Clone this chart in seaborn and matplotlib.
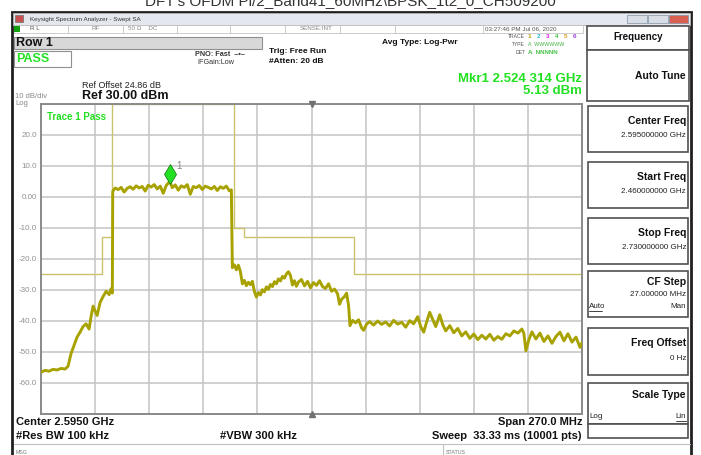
import matplotlib
matplotlib.use("Agg")
import matplotlib.pyplot as plt
import matplotlib.patches as mpatches
import matplotlib.transforms as mtransforms
import pandas as pd
import seaborn as sns

W, H = 701, 455

# ---- data ----
trace_freq_mhz = [
    2460.3, 2462, 2464, 2466, 2468, 2470, 2472, 2473.5, 2475, 2476.5, 2478, 2479.5,
    2481, 2482.5, 2484, 2485, 2486, 2487, 2488, 2489.5, 2491, 2492.5, 2494, 2495, 2495.6,
    2495.8, 2497, 2498.5, 2500, 2501.5, 2503, 2504.5, 2506, 2507.5, 2509, 2510.5, 2512,
    2513.5, 2515, 2516.5, 2518, 2519.5, 2521, 2522.5, 2524.3, 2525.5, 2527, 2528.5, 2530,
    2531.5, 2533, 2534.5, 2536, 2537.5, 2539, 2540.5, 2542, 2543.5, 2545, 2546.5, 2548,
    2549.5, 2551, 2552.5, 2554, 2555,
    2555.5, 2556.5, 2557.5, 2558.5, 2559.5, 2560.5, 2561.5, 2562.5, 2563.5, 2564.5, 2565.5,
    2566.5, 2567.5, 2568.5, 2569.5, 2570.5, 2571.5, 2572.5, 2573.5, 2574.5, 2575.5, 2576.5,
    2577.5, 2578.5, 2579.5, 2580.5, 2581.5, 2582.5, 2583.5, 2584.5, 2585.5, 2586.5, 2587.5,
    2588.5, 2590, 2591.5, 2593, 2594.5, 2596, 2597.5, 2599, 2600.5, 2602, 2603.5, 2605,
    2606.5, 2608, 2609, 2610, 2611.5, 2612.5, 2613.5,
    2614.2, 2615.5, 2617, 2618.5, 2620, 2621, 2622.5, 2624, 2626, 2628, 2630, 2632, 2634,
    2636, 2638, 2640, 2642, 2644, 2646, 2648, 2649.5, 2651, 2652.5, 2654, 2655.5, 2657,
    2659, 2660.5, 2662, 2664, 2666, 2668, 2670, 2672, 2674, 2676, 2678, 2680, 2682, 2684,
    2686, 2688, 2690, 2692, 2694, 2696, 2698, 2700, 2701, 2702, 2703.5, 2705, 2707, 2709,
    2711, 2713, 2715, 2717, 2719, 2721, 2723, 2725, 2727, 2729, 2730,
]
trace_dbm = [
    -56.5, -55.9, -56.2, -55.6, -55.8, -55.3, -55.5, -54.6, -50.5, -47.8, -45.2, -43.6,
    -41.8, -40.9, -42.6, -38.5, -35.2, -36.8, -38.2, -34.0, -32.1, -30.4, -31.5, -29.6, -31.0,
    1.8, 2.9, 2.4, 3.1, 1.6, 2.8, 3.3, 2.5, 3.6, 2.9, 3.4, 1.9,
    3.8, 3.2, 4.0, 2.6, 3.5, 1.2, 3.7, 5.1, 3.0, 3.9, 2.2, 3.6,
    3.1, 4.0, 0.9, 3.4, 3.0, 3.7, 2.4, 3.5, 3.1, 2.6, 3.4, 2.1,
    3.3, 2.8, 3.5, 2.0, 2.3,
    -22.8, -21.9, -23.5, -22.0, -24.0, -28.0, -26.9, -28.6, -27.5, -28.3, -27.2,
    -30.5, -32.3, -30.8, -31.6, -29.9, -30.6, -29.0, -29.8, -28.2, -28.9, -27.3,
    -28.0, -26.4, -27.1, -25.6, -26.2, -24.8, -24.1, -25.3, -28.4, -27.0, -28.8,
    -27.4, -26.6, -28.7, -27.2, -29.3, -27.6, -28.5, -27.0, -28.9, -29.5, -28.0, -30.4,
    -29.7, -31.2, -34.6, -33.0, -32.1, -31.0, -35.0,
    -41.5, -39.8, -40.6, -39.6, -42.2, -43.0, -41.0, -40.2, -41.3, -40.0, -41.1, -40.3, -41.6,
    -39.8, -41.0, -40.4, -42.0, -39.9, -40.9, -38.6, -41.8, -43.6, -40.2, -37.2, -39.5, -41.8,
    -38.0, -41.2, -43.2, -41.5, -43.8, -42.4, -44.8, -43.5, -45.6, -44.2, -46.0, -44.6, -45.8, -44.3,
    -46.2, -45.0, -45.9, -44.1, -44.8, -43.2, -43.9, -42.6, -44.0, -49.6, -46.0, -43.5, -45.8, -43.9,
    -46.6, -44.8, -47.2, -45.0, -43.6, -46.4, -44.1, -46.8, -45.2, -48.5, -47.0,
]
limit_freq_mhz = [2460, 2490.3, 2495.6, 2556.3, 2561.5, 2616.4, 2730]
limit_dbm = [-25, -13, 30, -10, -13, -25, -25]
y_grid = [30, 20, 10, 0, -10, -20, -30, -40, -50, -60, -70]
y_tick_labels = ["", "20.0", "10.0", "0.00", "-10.0", "-20.0", "-30.0", "-40.0", "-50.0", "-60.0", ""]
marker_freq_mhz = 2524.314
marker_dbm = 5.13

panel_titles = ["Center Freq", "Start Freq", "Stop Freq", "CF Step", "Freq Offset"]
panel_values = ["2.595000000 GHz", "2.460000000 GHz", "2.730000000 GHz", "27.000000 MHz", "0 Hz"]

TRACE = "#a8a200"
LIMIT = "#c9c36a"
GREEN = "#22e022"
GRAY = "#909090"


def fx(x):
    return x / W


def fy(y):
    return 1 - y / H


def rect(fig, x0, y0, x1, y1, fc="none", ec="#505050", lw=1.0, z=1):
    fig.add_artist(mpatches.Rectangle((fx(x0), fy(y1)), (x1 - x0) / W, (y1 - y0) / H,
                                      transform=fig.transFigure, fc=fc, ec=ec, lw=lw, zorder=z))


def hline(fig, x0, x1, y, color="#222222", lw=0.6):
    fig.add_artist(plt.Line2D([fx(x0), fx(x1)], [fy(y), fy(y)], color=color, lw=lw,
                              transform=fig.transFigure))


def txt(fig, x, y, s, **kw):
    kw.setdefault("va", "center")
    kw.setdefault("color", "#111111")
    fig.text(fx(x), fy(y), s, **kw)


sns.set_style("white")
plt.rcParams["font.family"] = ["Liberation Sans", "DejaVu Sans"]

fig = plt.figure(figsize=(W / 100, H / 100), dpi=100)

# ---- window chrome ----
txt(fig, 350, 1.5, "DFT's OFDM Pi/2_Band41_60MHz\\BPSK_1t2_0_CH509200", ha="center",
    fontsize=11, color="#333333")
rect(fig, 12, 12, 691, 456, fc="white", ec="#202020", lw=2.0, z=0)
rect(fig, 13, 13, 690, 25, fc="#e4e8ee", ec="#b0b0b0", lw=0.6)
rect(fig, 15, 15, 23, 22, fc="#c85050", ec="#707070", lw=0.5)
txt(fig, 30, 19, "Keysight Spectrum Analyzer - Swept SA", fontsize=4.5, color="#333333")
for bx0, bx1, col in [(627, 647, "#d8dde6"), (648, 668, "#d8dde6"), (669, 688, "#d86050")]:
    rect(fig, bx0, 15, bx1, 23, fc=col, ec="#8090a0", lw=0.5)

# status row
rect(fig, 14, 25, 583, 33, fc="white", ec="#b8b8b8", lw=0.5)
for cx in [68, 123, 177, 230, 285, 340, 395, 483]:
    fig.add_artist(plt.Line2D([fx(cx), fx(cx)], [fy(25), fy(33)], color="#b8b8b8", lw=0.5,
                              transform=fig.transFigure))
rect(fig, 14, 26, 20, 32, fc="#10a010", ec="none")
txt(fig, 30, 29, "R L", fontsize=4.5, color="#555555")
txt(fig, 91, 29, "RF", fontsize=4.5, color="#888888")
txt(fig, 128, 29, "50 \u03a9    DC", fontsize=4.5, color="#888888")
txt(fig, 300, 29, "SENSE:INT", fontsize=4.5, color="#888888")
txt(fig, 485, 29, "03:27:46 PM Jul 06, 2020", fontsize=4.5, color="#555555")

rect(fig, 14, 37, 262, 49, fc="#d8d8d8", ec="#909090", lw=0.8)
txt(fig, 16, 43, "Row 1", fontsize=9, fontweight="bold")
rect(fig, 14, 51, 71, 67, fc="white", ec="#909090", lw=0.8)
txt(fig, 16, 59, "PASS", fontsize=9, fontweight="bold", color=GREEN)
txt(fig, 195, 54, "PNO: Fast  \u2013\u2022\u2013", fontsize=5.2, fontweight="bold", color="#333333")
txt(fig, 197, 63, "IFGain:Low", fontsize=5.2, color="#333333")
txt(fig, 269, 51.5, "Trig: Free Run", fontsize=6, fontweight="bold")
txt(fig, 269, 61.5, "#Atten: 20 dB", fontsize=6, fontweight="bold")
txt(fig, 420, 42, "Avg Type: Log-Pwr", fontsize=6, fontweight="bold", ha="center")
txt(fig, 525, 37, "TRACE", fontsize=3.6, ha="right", color="#555555")
txt(fig, 525, 44.5, "TYPE", fontsize=3.6, ha="right", color="#555555")
txt(fig, 525, 52, "DET", fontsize=3.6, ha="right", color="#555555")
for i, col in enumerate(["#b0a000", "#20c0e0", "#e020e0", "#30c030", "#e0a020", "#a040e0"]):
    txt(fig, 528 + i * 9, 37, str(i + 1), fontsize=4.5, fontweight="bold", color=col)
txt(fig, 528, 44.5, "A  WWWWWW", fontsize=3.8, color="#40b040")
txt(fig, 528, 52, "A  NNNNN", fontsize=4.5, fontweight="bold", color="#40c040")
txt(fig, 582, 78.5, "Mkr1 2.524 314 GHz", fontsize=9.5, fontweight="bold", color=GREEN, ha="right")
txt(fig, 582, 91.5, "5.13 dBm", fontsize=9.5, fontweight="bold", color=GREEN, ha="right")
txt(fig, 82, 85, "Ref Offset 24.86 dB", fontsize=6.5, color="#222222")
txt(fig, 82, 96, "Ref 30.00 dBm", fontsize=9, fontweight="bold")
txt(fig, 15, 97, "10 dB/div", fontsize=5.5, color="#888888")
txt(fig, 15, 103.5, "Log", fontsize=5.5, color="#888888")

# bottom
txt(fig, 16, 422, "Center 2.5950 GHz", fontsize=8, fontweight="bold")
txt(fig, 16, 436, "#Res BW 100 kHz", fontsize=8, fontweight="bold")
txt(fig, 220, 436, "#VBW 300 kHz", fontsize=8, fontweight="bold")
txt(fig, 582, 422, "Span 270.0 MHz", fontsize=8, fontweight="bold", ha="right")
txt(fig, 582, 436, "Sweep  33.33 ms (10001 pts)", fontsize=8, fontweight="bold", ha="right")
hline(fig, 14, 690, 444, color="#c0c0c0", lw=0.8)
fig.add_artist(plt.Line2D([fx(443), fx(443)], [fy(444), fy(455)], color="#c0c0c0", lw=0.8,
                          transform=fig.transFigure))
txt(fig, 16, 452, "MSG", fontsize=3.8, color="#777777")
txt(fig, 446, 452, "STATUS", fontsize=3.8, color="#777777")

# right soft-key panel
rect(fig, 587, 26, 689, 50, fc="white", ec="#505050", lw=1.2)
txt(fig, 638, 37.5, "Frequency", fontsize=7, fontweight="bold", ha="center")
rect(fig, 587, 50, 689, 101, fc="white", ec="#505050", lw=1.2)
txt(fig, 686, 76, "Auto Tune", fontsize=7.5, fontweight="bold", ha="right")
for top, title, value in zip([106, 162, 218], panel_titles[:3], panel_values[:3]):
    rect(fig, 588, top, 688, top + 46, fc="white", ec="#505050", lw=1.2)
    txt(fig, 686, top + 15.5, title, fontsize=7.5, fontweight="bold", ha="right")
    txt(fig, 686, top + 29.5, value, fontsize=5.8, ha="right", color="#222222")
# CF Step box has three rows
rect(fig, 588, 271, 688, 317, fc="white", ec="#505050", lw=1.2)
txt(fig, 686, 282, panel_titles[3], fontsize=7.5, fontweight="bold", ha="right")
txt(fig, 686, 294, panel_values[3], fontsize=5.8, ha="right", color="#222222")
txt(fig, 589, 307, "Auto", fontsize=5.8, color="#222222")
hline(fig, 589, 602, 311)
txt(fig, 686, 307, "Man", fontsize=5.8, ha="right", color="#222222")
rect(fig, 588, 328, 688, 375, fc="white", ec="#505050", lw=1.2)
txt(fig, 686, 343, panel_titles[4], fontsize=7.5, fontweight="bold", ha="right")
txt(fig, 686, 359, panel_values[4], fontsize=5.8, ha="right", color="#222222")
rect(fig, 588, 383, 688, 424, fc="white", ec="#505050", lw=1.2)
txt(fig, 686, 395, "Scale Type", fontsize=7.5, fontweight="bold", ha="right")
txt(fig, 589, 417, "Log", fontsize=5.8, color="#222222")
txt(fig, 686, 417, "Lin", fontsize=5.8, ha="right", color="#222222")
hline(fig, 676, 686, 421)
rect(fig, 588, 424, 688, 438, fc="white", ec="#505050", lw=1.2)

# ---- trace plot ----
ax = fig.add_axes([fx(41), fy(414), 541 / W, 310 / H])
ax.set_zorder(3)
trace = pd.DataFrame({"freq": trace_freq_mhz, "dbm": trace_dbm})
limit = pd.DataFrame({"freq": limit_freq_mhz, "dbm": limit_dbm})
sns.lineplot(data=limit, x="freq", y="dbm", ax=ax, color=LIMIT, lw=1.0,
             drawstyle="steps-post", clip_on=False, zorder=2)
sns.lineplot(data=trace, x="freq", y="dbm", ax=ax, color=TRACE, lw=2.1, zorder=3)

ax.set_xlim(2460, 2730)
ax.set_ylim(-70, 30)
ax.set_xticks([2460 + 27 * k for k in range(11)])
ax.set_xticklabels([])
ax.set_yticks(y_grid)
ax.set_yticklabels(y_tick_labels, fontsize=5.8, color=GRAY)
ax.tick_params(length=0, pad=3)
ax.grid(True, color="#c4c4c4", lw=1.1)
ax.set_axisbelow(True)
for sp in ax.spines.values():
    sp.set_color("#8a8a8a")
    sp.set_linewidth(1.4)
ax.set_xlabel("")
ax.set_ylabel("")

ax.text(0.012, 0.975, "Trace 1 Pass", transform=ax.transAxes, fontsize=7, fontweight="bold",
        color=GREEN, va="top")

# marker
mk_trans = mtransforms.offset_copy(ax.transData, fig=fig, x=0, y=5.3, units="points")
ax.plot([marker_freq_mhz], [marker_dbm], marker="d", ms=10, color=GREEN, mec="#208020",
        mew=0.6, transform=mk_trans, zorder=5)
ax.annotate("1", xy=(marker_freq_mhz, marker_dbm), xytext=(5, 11), textcoords="offset points",
            fontsize=7, color="#888888", va="center", zorder=5)

# center-frequency ticks on the frame
ax.plot([2595], [30], marker="v", ms=4, color="#707070", clip_on=False, zorder=5)
ax.plot([2595], [-70], marker="^", ms=4, color="#707070", clip_on=False, zorder=5)

plt.savefig("out.png", dpi=100)
plt.close()
